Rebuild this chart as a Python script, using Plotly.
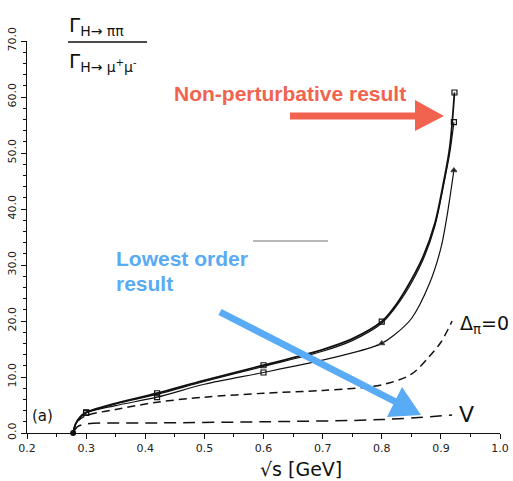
import plotly.graph_objects as go

# ---------------- data ----------------
x_c1 = [0.278, 0.282, 0.29, 0.30, 0.35, 0.42, 0.50, 0.60, 0.70, 0.75, 0.80, 0.82, 0.84, 0.87, 0.89, 0.905, 0.915, 0.923]
y_c1 = [0.0, 1.6, 2.9, 3.7, 5.3, 7.1, 9.4, 12.1, 14.9, 16.8, 19.9, 22.3, 25.5, 31.5, 37.5, 45.0, 51.0, 60.8]

x_c2 = [0.278, 0.282, 0.29, 0.30, 0.35, 0.42, 0.50, 0.60, 0.70, 0.75, 0.80, 0.82, 0.84, 0.87, 0.89, 0.905, 0.915, 0.922]
y_c2 = [0.0, 1.5, 2.8, 3.6, 5.2, 6.9, 9.2, 11.9, 14.6, 16.5, 19.6, 22.0, 25.0, 31.0, 37.0, 44.5, 50.0, 55.5]

x_c3 = [0.278, 0.282, 0.29, 0.30, 0.35, 0.42, 0.50, 0.60, 0.70, 0.75, 0.78, 0.80, 0.82, 0.85, 0.88, 0.90, 0.91, 0.918, 0.922]
y_c3 = [0.0, 1.5, 2.8, 3.6, 4.9, 6.4, 8.7, 10.8, 13.0, 14.3, 15.2, 16.0, 17.4, 20.4, 26.5, 33.0, 38.5, 44.0, 46.9]

mk1_x = [0.30, 0.42, 0.60, 0.80, 0.923]
mk1_y = [3.7, 7.1, 12.1, 19.9, 60.8]
mk2_x = [0.922]
mk2_y = [55.5]
mk3_x = [0.30, 0.42, 0.60, 0.80, 0.922]
mk3_y = [3.6, 6.4, 10.8, 16.0, 46.9]
mk3_sym = ["square-open", "square-open", "square-open", "triangle-up", "triangle-up"]

x_delta0 = [0.278, 0.285, 0.30, 0.35, 0.42, 0.50, 0.60, 0.70, 0.80, 0.85, 0.88, 0.90, 0.919]
y_delta0 = [0.0, 2.0, 3.1, 4.2, 5.5, 6.4, 7.1, 7.6, 8.6, 10.5, 13.6, 16.2, 20.0]

x_V = [0.278, 0.285, 0.30, 0.42, 0.60, 0.80, 0.919]
y_V = [0.0, 1.1, 1.6, 1.8, 2.0, 2.4, 3.2]

x_ticks = [0.2, 0.3, 0.4, 0.5, 0.6, 0.7, 0.8, 0.9, 1.0]
y_ticks = [0, 10, 20, 30, 40, 50, 60, 70]

# ---------------- layout geometry ----------------
W, H = 513, 481
L, R, T, B = 27, 13, 41, 48
PW, PH = W - L - R, H - T - B


def px(x):
    return (x - L) / PW


def py(y):
    return (H - B - y) / PH


fig = go.Figure()

black = "#111111"
sm = 0.9
fig.add_trace(go.Scatter(x=x_c3, y=y_c3, mode="lines", line=dict(color=black, width=1.2, shape="spline", smoothing=sm), cliponaxis=False))
fig.add_trace(go.Scatter(x=x_c2, y=y_c2, mode="lines", line=dict(color=black, width=1.2, shape="spline", smoothing=sm), cliponaxis=False))
fig.add_trace(go.Scatter(x=x_c1, y=y_c1, mode="lines", line=dict(color=black, width=1.8, shape="spline", smoothing=sm), cliponaxis=False))
fig.add_trace(go.Scatter(x=x_delta0, y=y_delta0, mode="lines", line=dict(color=black, width=1.5, dash="8px,5px", shape="spline", smoothing=sm), cliponaxis=False))
fig.add_trace(go.Scatter(x=x_V, y=y_V, mode="lines", line=dict(color=black, width=1.5, dash="12px,7px", shape="spline", smoothing=sm), cliponaxis=False))

fig.add_trace(go.Scatter(x=mk1_x, y=mk1_y, mode="markers", marker=dict(symbol="square-open", size=5, color=black, line=dict(width=1.2)), cliponaxis=False))
fig.add_trace(go.Scatter(x=mk2_x, y=mk2_y, mode="markers", marker=dict(symbol="square-open", size=5, color=black, line=dict(width=1.2)), cliponaxis=False))
fig.add_trace(go.Scatter(x=mk3_x, y=mk3_y, mode="markers", marker=dict(symbol=mk3_sym, size=5, color=black, line=dict(width=1.2)), cliponaxis=False))
fig.add_trace(go.Scatter(x=[x_c1[0]], y=[y_c1[0]], mode="markers", marker=dict(symbol="circle", size=6, color=black), cliponaxis=False))

tickfont = dict(family="DejaVu Sans", size=11, color="#222222")
fig.update_xaxes(range=[0.2, 1.0], tickvals=x_ticks, tickformat=".1f", showgrid=False, zeroline=False,
                 showline=True, linecolor=black, linewidth=1.3, ticks="outside", ticklen=5, tickwidth=1.2, tickcolor=black,
                 minor=dict(dtick=0.05, ticks="outside", ticklen=3, tickcolor=black, tickwidth=1),
                 tickfont=tickfont)
fig.update_yaxes(range=[0, 70], tickvals=y_ticks, tickformat=".1f", showgrid=False, zeroline=False,
                 showline=True, linecolor=black, linewidth=1.3, ticks="outside", ticklen=5, tickwidth=1.2, tickcolor=black,
                 minor=dict(dtick=2, ticks="outside", ticklen=3, tickcolor=black, tickwidth=1),
                 tickangle=-90, tickfont=tickfont)

red = "#F2634F"
blue = "#58ABF4"

shapes = [
    # fraction bar
    dict(type="line", xref="paper", yref="paper", x0=px(68), x1=px(147), y0=py(42), y1=py(42), line=dict(color=black, width=1.5)),
    # red arrow
    dict(type="line", xref="paper", yref="paper", x0=px(290), x1=px(418), y0=py(116), y1=py(116), line=dict(color=red, width=7)),
    dict(type="path", xref="paper", yref="paper",
         path=f"M {px(415)} {py(100)} L {px(444)} {py(116)} L {px(415)} {py(131)} Z",
         fillcolor=red, line=dict(width=0)),
    # blue arrow
    dict(type="line", xref="paper", yref="paper", x0=px(220), x1=px(396), y0=py(312), y1=py(402), line=dict(color=blue, width=7)),
    dict(type="path", xref="paper", yref="paper",
         path=f"M {px(387)} {py(417)} L {px(402)} {py(387)} L {px(421)} {py(415)} Z",
         fillcolor=blue, line=dict(width=0)),
    # gray line
    dict(type="line", xref="paper", yref="paper", x0=px(253), x1=px(328), y0=py(241), y1=py(241), line=dict(color="#a0a0a0", width=1.5)),
]

bold = "Liberation Sans, Arial, sans-serif"
hand = "DejaVu Sans, sans-serif"
annotations = [
    dict(text="Γ<sub>H→ ππ</sub>", x=px(67), y=py(26), xanchor="left", yanchor="middle",
         font=dict(family=hand, size=20, color=black)),
    dict(text="Γ<sub>H→ μ<sup>+</sup>μ<sup>-</sup></sub>", x=px(67), y=py(62), xanchor="left", yanchor="middle",
         font=dict(family=hand, size=20, color=black)),
    dict(text="<b>Non-perturbative result</b>", x=px(290), y=py(93), xanchor="center", yanchor="middle",
         font=dict(family=bold, size=21, color=red)),
    dict(text="<b>Lowest order</b>", x=px(114), y=py(258), xanchor="left", yanchor="middle",
         font=dict(family=bold, size=21, color=blue)),
    dict(text="<b>result</b>", x=px(114), y=py(283), xanchor="left", yanchor="middle",
         font=dict(family=bold, size=21, color=blue)),
    dict(text="Δ<sub>π</sub>=0", x=px(458), y=py(324), xanchor="left", yanchor="middle",
         font=dict(family=hand, size=19, color=black)),
    dict(text="V", x=px(466), y=py(414), xanchor="center", yanchor="middle",
         font=dict(family=hand, size=22, color=black)),
    dict(text="(a)", x=px(30), y=py(416), xanchor="left", yanchor="middle",
         font=dict(family=hand, size=15, color=black)),
    dict(text="√s [GeV]", x=px(301), y=py(469), xanchor="center", yanchor="middle",
         font=dict(family=hand, size=19, color=black)),
]
for a in annotations:
    a.update(xref="paper", yref="paper", showarrow=False)

fig.update_layout(width=W, height=H, margin=dict(l=L, r=R, t=T, b=B, autoexpand=False),
                  paper_bgcolor="white", plot_bgcolor="white", showlegend=False,
                  shapes=shapes, annotations=annotations)

fig.write_html("out.html")
